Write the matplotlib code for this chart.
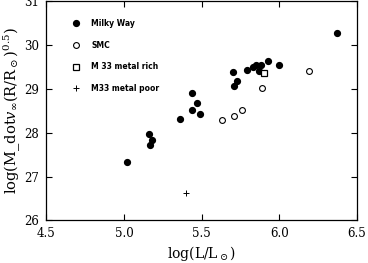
import matplotlib
matplotlib.use("Agg")
import matplotlib.pyplot as plt

# Milky Way stars
mw_logL = [6.37, 5.70, 5.79, 5.83, 5.85, 5.88, 5.93, 6.00, 5.87, 5.73, 5.71,
           5.44, 5.47, 5.44, 5.49, 5.36, 5.16, 5.18, 5.17, 5.02]
mw_mdot = [30.27, 29.38, 29.42, 29.50, 29.54, 29.54, 29.63, 29.55, 29.40, 29.17, 29.06,
           28.91, 28.68, 28.52, 28.42, 28.32, 27.98, 27.84, 27.71, 27.33]

# SMC stars
smc_logL = [6.19, 5.89, 5.76, 5.71, 5.63]
smc_mdot = [29.40, 29.01, 28.51, 28.37, 28.29]

# M33
m33_rich_logL = [5.90]
m33_rich_mdot = [29.37]
m33_poor_logL = [5.40]
m33_poor_mdot = [26.63]

plt.rcParams["font.family"] = "DejaVu Serif"
plt.rcParams["mathtext.fontset"] = "dejavuserif"

fig = plt.figure(figsize=(3.68, 2.63), dpi=100)
ax = fig.add_axes([0.126, 0.162, 0.844, 0.834])

ax.plot(mw_logL, mw_mdot, "o", color="black", ms=4.2, label="Milky Way")
ax.plot(smc_logL, smc_mdot, "o", mfc="white", mec="black", mew=0.8, ms=4.2, label="SMC")
ax.plot(m33_rich_logL, m33_rich_mdot, "s", mfc="white", mec="black", mew=0.9, ms=4.5,
        label="M 33 metal rich")
ax.plot(m33_poor_logL, m33_poor_mdot, "+", color="black", mew=0.7, ms=4.5,
        label="M33 metal poor")

ax.set_xlim(4.5, 6.5)
ax.set_ylim(26, 31)
ax.set_xticks([4.5, 5.0, 5.5, 6.0, 6.5])
ax.set_yticks([26, 27, 28, 29, 30, 31])
ax.tick_params(direction="in", top=True, right=True, length=4, width=0.8,
               labelsize=8.5, pad=5)
for s in ax.spines.values():
    s.set_linewidth(0.9)

ax.set_xlabel(r"log(L/L$_\odot$)", fontsize=10, labelpad=2.5)
ax.set_ylabel(r"log(M_dot$v_\infty$(R/R$_\odot$)$^{0.5}$)", fontsize=10.5, labelpad=1)

ax.legend(loc="upper left", bbox_to_anchor=(0.07, 0.935), frameon=False,
          prop={"family": "DejaVu Sans", "weight": "bold", "size": 5.5},
          handlelength=1.0, handletextpad=1.5, labelspacing=1.65, borderpad=0)

fig.savefig("out.png", dpi=100)
